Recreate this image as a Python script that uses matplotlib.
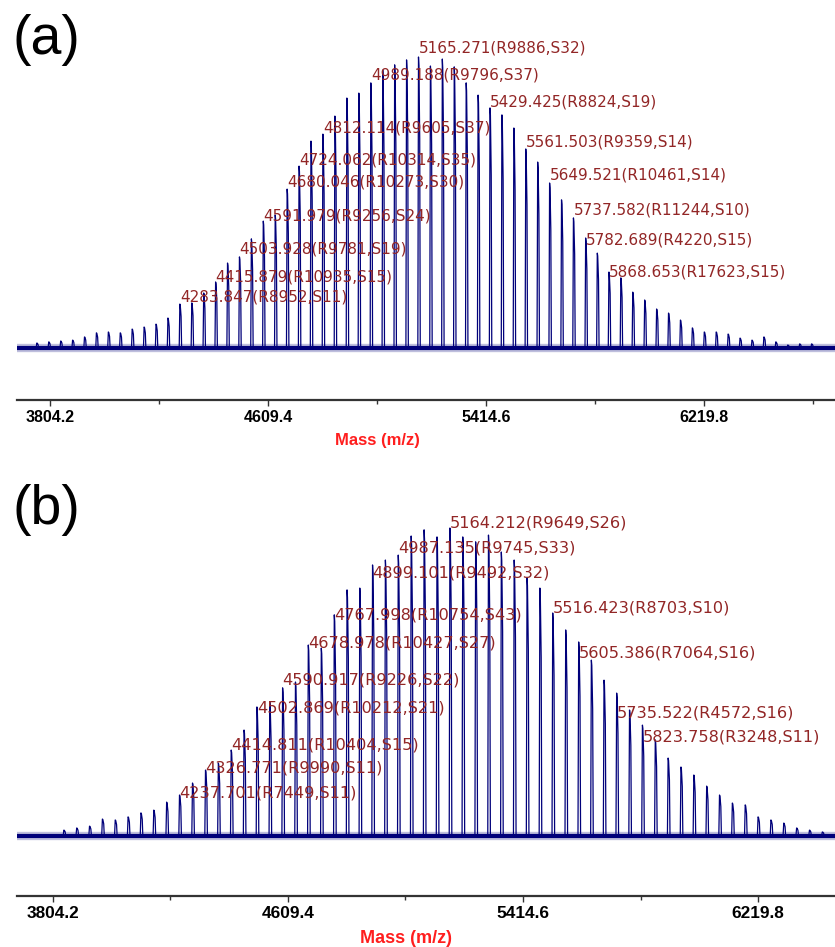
import numpy as np
import matplotlib
matplotlib.use("Agg")
import matplotlib.pyplot as plt

# ---- panel (a) peak list: m/z and relative intensity (%)
mz_a = [3755.5, 3799.5, 3843.6, 3887.6, 3931.6, 3975.6, 4019.7, 4063.7, 4107.7, 4151.8,
        4195.8, 4239.8, 4283.847, 4327.9, 4371.9, 4415.879, 4459.9, 4503.928, 4548.0, 4591.979,
        4636.0, 4680.046, 4724.062, 4768.1, 4812.114, 4856.4, 4900.7, 4944.9, 4989.188, 5033.2,
        5077.2, 5121.2, 5165.271, 5209.3, 5253.3, 5297.3, 5341.4, 5385.4, 5429.425, 5473.4,
        5517.5, 5561.503, 5605.5, 5649.521, 5693.6, 5737.582, 5782.689, 5825.7, 5868.653, 5912.7,
        5956.7, 6000.7, 6044.8, 6088.8, 6132.8, 6176.8, 6220.9, 6264.9, 6308.9, 6352.9,
        6397.0, 6441.0, 6485.0, 6529.0, 6573.1, 6617.1]
int_a = [1.7, 2.1, 2.4, 2.7, 3.8, 5.2, 5.5, 5.2, 6.5, 7.2,
         8.2, 10.3, 15.1, 15.5, 18.9, 22.7, 29.2, 31.3, 37.5, 43.6,
         45.7, 54.6, 62.5, 71.1, 73.5, 79.7, 85.9, 87.6, 91.1, 95.5,
         97.3, 99.0, 100.0, 96.9, 99.3, 96.6, 91.1, 86.9, 82.5, 80.1,
         75.6, 68.4, 63.9, 56.7, 50.9, 44.7, 37.8, 32.6, 26.1, 24.1,
         19.2, 16.5, 13.4, 12.0, 9.6, 6.9, 5.5, 5.5, 4.8, 3.4,
         2.7, 3.8, 2.1, 1.0, 1.4, 1.4]

lab_mz_a = [4283.847, 4415.879, 4503.928, 4591.979, 4680.046, 4724.062, 4812.114, 4989.188,
            5165.271, 5429.425, 5561.503, 5649.521, 5737.582, 5782.689, 5868.653]
lab_res_a = [8952, 10935, 9781, 9256, 10273, 10314, 9605, 9796,
             9886, 8824, 9359, 10461, 11244, 4220, 17623]
lab_sn_a = [11, 15, 19, 24, 30, 35, 37, 37, 32, 19, 14, 14, 10, 15, 15]

# ---- panel (b)
mz_b = [3841.4, 3885.4, 3929.4, 3973.5, 4017.5, 4061.5, 4105.5, 4149.6, 4193.6, 4237.701,
        4282.2, 4326.771, 4370.8, 4414.811, 4458.8, 4502.869, 4546.9, 4590.917, 4635.0, 4678.978,
        4723.5, 4767.998, 4811.7, 4855.4, 4899.101, 4943.1, 4987.135, 5031.4, 5075.7, 5119.9,
        5164.212, 5208.2, 5252.3, 5296.3, 5340.3, 5384.3, 5428.4, 5472.4, 5516.423, 5560.9,
        5605.386, 5648.8, 5692.2, 5735.522, 5779.6, 5823.758, 5867.8, 5911.8, 5955.8, 5999.9,
        6043.9, 6087.9, 6131.9, 6176.0, 6220.0, 6264.0, 6308.0, 6352.1, 6396.1, 6440.1]
int_b = [1.9, 2.6, 3.2, 5.5, 5.2, 6.2, 7.5, 8.4, 11.0, 13.3,
         17.2, 21.4, 23.7, 27.9, 34.4, 41.9, 43.5, 48.1, 50.0, 62.0,
         61.0, 71.8, 79.9, 80.5, 88.0, 89.6, 91.2, 97.4, 99.4, 97.1,
         100.0, 97.1, 95.5, 97.7, 92.2, 89.6, 83.8, 80.5, 72.4, 66.9,
         63.0, 57.1, 50.6, 46.4, 40.9, 36.0, 31.2, 25.3, 22.4, 19.8,
         16.2, 13.3, 10.7, 10.1, 6.2, 5.2, 4.2, 2.6, 1.9, 1.3]

lab_mz_b = [4237.701, 4326.771, 4414.811, 4502.869, 4590.917, 4678.978, 4767.998, 4899.101,
            4987.135, 5164.212, 5516.423, 5605.386, 5735.522, 5823.758]
lab_res_b = [7449, 9990, 10404, 10212, 9226, 10427, 10754, 9492,
             9745, 9649, 8703, 7064, 4572, 3248]
lab_sn_b = [11, 11, 15, 21, 22, 27, 43, 32, 33, 26, 10, 16, 16, 11]

major_ticks = [3804.2, 4609.4, 5414.6, 6219.8]
minor_ticks = [4206.8, 5012.0, 5817.2, 6622.4]

# label vertical shift in pixels (label centre relative to peak top, + = down)
dy_a = [-7, -5, -8, -5, -7, -6, -6, -8, -9, -6, -7, -8, -8, 2, 0]
dy_b = [-2, -2, -5, 1, -8, -2, 0, 8, -7, -5, -5, 11, 20, 12]

W, H = 835, 947
NAVY = '#00007a'
LABEL_RED = '#922626'

fig = plt.figure(figsize=(W / 100, H / 100), dpi=100)


def panel(top_px, axis_px, xlim, ylim, mz, inten, lab_mz, lab_res, lab_sn, dy,
          lab_fs, tick_fs, letter, letter_y, mass_xy, mass_fs):
    ax = fig.add_axes([17 / W, 1 - axis_px / H, 818 / W, (axis_px - top_px) / H])

    # build spectrum trace (sharp peak with a shoulder on its right side)
    xs, ys = [xlim[0]], [0]
    for m, h in zip(mz, inten):
        xs += [m - 2.4, m, m + 1.5, m + 4.5, m + 6.5]
        ys += [0, h, h * 0.97, h * 0.72, 0]
    xs.append(xlim[1])
    ys.append(0)
    # noisy baseline band
    ax.plot(xlim, [0, 0], color=NAVY, lw=6.0, alpha=0.25, solid_capstyle='butt')
    ax.plot(xlim, [0, 0], color=NAVY, lw=3.0, solid_capstyle='butt')
    ax.plot(xs, ys, color=NAVY, lw=0.9)

    for m, r, s, d in zip(lab_mz, lab_res, lab_sn, dy):
        h = inten[mz.index(m)]
        ax.annotate(f"{m:.3f}(R{r},S{s})", xy=(m, h), xytext=(0, -d),
                    textcoords='offset pixels', ha='left', va='center',
                    fontsize=lab_fs, color=LABEL_RED, family='DejaVu Sans')

    for sp in ['left', 'right', 'top']:
        ax.spines[sp].set_visible(False)
    ax.spines['bottom'].set_color('#333333')
    ax.spines['bottom'].set_linewidth(1.6)
    ax.set_yticks([])
    ax.set_xticks(major_ticks)
    ax.set_xticklabels([f"{t:.1f}" for t in major_ticks])
    ax.set_xticks(minor_ticks, minor=True)
    ax.tick_params(axis='x', which='major', length=4, width=1, color='#333333', pad=3)
    ax.tick_params(axis='x', which='minor', length=3, width=1, color='#333333')
    for t in ax.get_xticklabels():
        t.set_fontsize(tick_fs)
        t.set_fontweight('bold')
        t.set_family('Liberation Sans')
    # set limits after the ticks, since set_xticks may widen the view
    ax.set_xlim(*xlim)
    ax.set_ylim(*ylim)

    fig.text(12 / W, 1 - letter_y / H, letter, fontsize=40, family='Liberation Sans',
             ha='left', va='center')
    fig.text(mass_xy[0] / W, 1 - mass_xy[1] / H, 'Mass (m/z)', fontsize=mass_fs,
             fontweight='bold', color='#ff1e1e', family='Liberation Sans',
             ha='center', va='center')
    return ax


# px-per-% : a -> 2.91 (baseline at y=348), b -> 3.08 (baseline at y=836)
panel(20, 400, (3682.3, 6703.7), ((348 - 400) / 2.91, (348 - 20) / 2.91),
      mz_a, int_a, lab_mz_a, lab_res_a, lab_sn_a, dy_a,
      11, 11.5, '(a)', 40, (377, 440), 12)
panel(500, 896, (3680.9, 6483.6), ((836 - 896) / 3.08, (836 - 500) / 3.08),
      mz_b, int_b, lab_mz_b, lab_res_b, lab_sn_b, dy_b,
      11.6, 12.4, '(b)', 510, (406, 938), 13)

fig.savefig('out.png', dpi=100)
